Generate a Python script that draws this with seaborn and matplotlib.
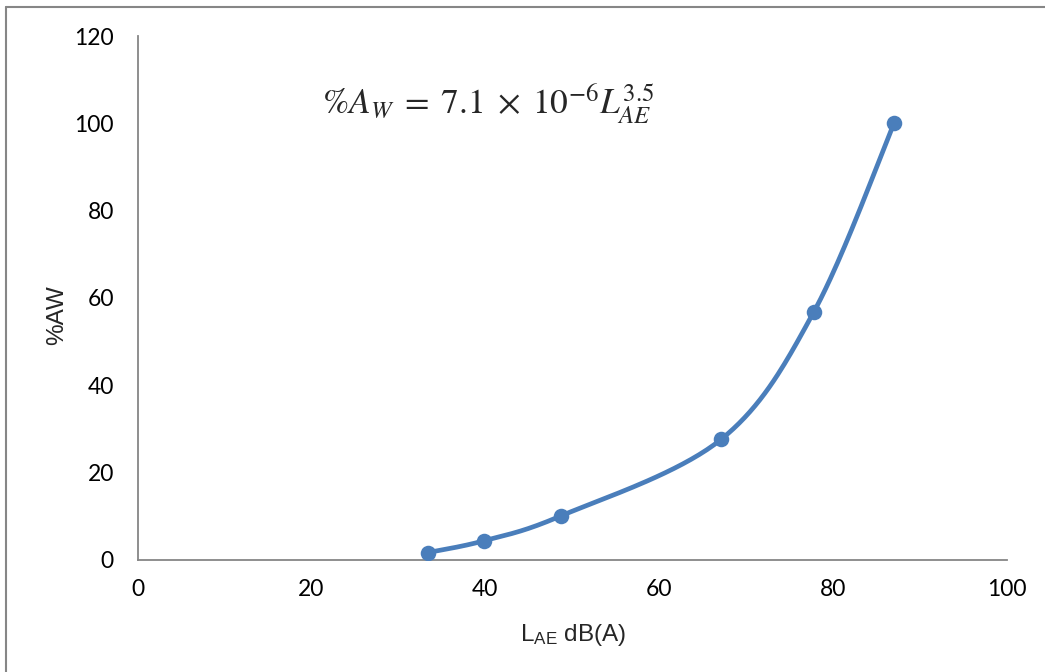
import numpy as np
import pandas as pd
import matplotlib
matplotlib.use("Agg")
import matplotlib.pyplot as plt
import seaborn as sns

# values
lae = [33.4, 39.85, 48.7, 67.1, 77.8, 87.0]
aw = [1.7, 4.4, 10.1, 27.6, 56.9, 100.0]
xticks = [0, 20, 40, 60, 80, 100]
yticks = [0, 20, 40, 60, 80, 100, 120]

blue = "#4A7EBB"
grey = "#868686"

sns.set_style("white")
plt.rcParams["mathtext.fontset"] = "custom"
plt.rcParams["mathtext.rm"] = "Liberation Sans"
plt.rcParams["mathtext.it"] = "Liberation Sans:italic"


def smooth(xs, ys, sx, sy, n=40):
    # excel style smoothed line (catmull-rom), done in pixel space
    px = np.array(xs) * sx
    py = np.array(ys) * sy
    px = np.r_[px[0], px, px[-1]]
    py = np.r_[py[0], py, py[-1]]
    outx, outy = [], []
    for i in range(1, len(px) - 2):
        t = np.linspace(0, 1, n)
        for arr, out in ((px, outx), (py, outy)):
            p0, p1, p2, p3 = arr[i - 1], arr[i], arr[i + 1], arr[i + 2]
            c1 = p1 + (p2 - p0) / 6
            c2 = p2 - (p3 - p1) / 6
            b = ((1 - t) ** 3 * p1 + 3 * (1 - t) ** 2 * t * c1
                 + 3 * (1 - t) * t ** 2 * c2 + t ** 3 * p2)
            out.extend(b)
    return np.array(outx) / sx, np.array(outy) / sy


fig = plt.figure(figsize=(10.45, 6.72), dpi=100)
ax = fig.add_axes([0.1316, 0.1667, 0.8321, 0.7797])

cx, cy = smooth(lae, aw, 8.695, 4.367)
curve = pd.DataFrame({"x": cx, "y": cy})
pts = pd.DataFrame({"LAE": lae, "AW": aw})

sns.lineplot(data=curve, x="x", y="y", ax=ax, color=blue, linewidth=3.4,
             sort=False, estimator=None)
sns.scatterplot(data=pts, x="LAE", y="AW", ax=ax, color=blue, s=125,
                edgecolor=blue, linewidth=0, zorder=3)

ax.set_xlim(0, 100)
ax.set_ylim(0, 120)
ax.set_xticks(xticks)
ax.set_yticks(yticks)
ax.tick_params(length=0, labelsize=16.5, colors="black")
ax.tick_params(axis="y", pad=17)
ax.tick_params(axis="x", pad=14)
for lab in ax.get_xticklabels() + ax.get_yticklabels():
    lab.set_fontfamily("Lato")

for s in ["top", "right"]:
    ax.spines[s].set_visible(False)
for s in ["left", "bottom"]:
    ax.spines[s].set_color(grey)
    ax.spines[s].set_linewidth(1.3)
    ax.spines[s].set_zorder(1)

ax.set_xlabel(r"L$_{\mathrm{AE}}$ dB(A)", fontsize=17.5, family="Liberation Sans")
ax.set_ylabel("%AW", fontsize=17.5, family="Liberation Sans")
ax.xaxis.set_label_coords(0.501, -0.118)
ax.yaxis.set_label_coords(-0.08, 0.4676)

ax.text(21.2, 104.6, r"$\%A_W\;=\;7.1\;\times\;10^{-6} L_{AE}^{3.5}$",
        fontsize=25.5, ha="left", va="center", math_fontfamily="stix")

# outer frame of the chart area (only top and left visible)
fig.add_artist(plt.Line2D([0.0057, 0.0057], [0, 0.9896], transform=fig.transFigure,
                          color=grey, linewidth=1.5))
fig.add_artist(plt.Line2D([0.0057, 1], [0.9896, 0.9896], transform=fig.transFigure,
                          color=grey, linewidth=1.5))

fig.savefig("out.png", dpi=100)
